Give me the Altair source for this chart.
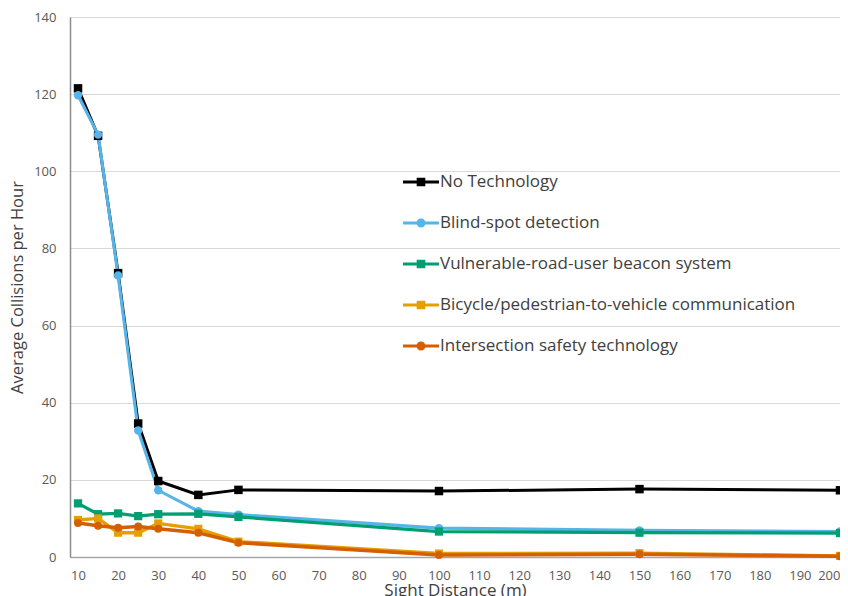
import altair as alt
import pandas as pd

distances = [10, 15, 20, 25, 30, 40, 50, 100, 150, 200]
series_names = [
    "No Technology",
    "Blind-spot detection",
    "Vulnerable-road-user beacon system",
    "Bicycle/pedestrian-to-vehicle communication",
    "Intersection safety technology",
]
no_tech = [121.5, 109.2, 73.6, 34.6, 19.7, 16.1, 17.4, 17.1, 17.6, 17.3]
blind_spot = [119.7, 109.5, 73.0, 32.8, 17.3, 11.9, 11.0, 7.5, 6.9, 6.6]
vru_beacon = [13.9, 11.1, 11.3, 10.6, 11.1, 11.2, 10.4, 6.6, 6.3, 6.2]
bike_ped = [9.6, 10.0, 6.3, 6.3, 8.7, 7.3, 4.0, 0.9, 1.0, 0.3]
intersection = [8.8, 8.1, 7.6, 7.9, 7.3, 6.3, 3.7, 0.5, 0.7, 0.2]

colors = ["#000000", "#56B4E9", "#009E73", "#E69F00", "#D55E00"]
marker_shapes = ["square", "circle", "square", "square", "circle"]
widths = [3, 3.5, 3.5, 3.5, 3.5]

all_values = [no_tech, blind_spot, vru_beacon, bike_ped, intersection]
rows = []
for i, (name, vals) in enumerate(zip(series_names, all_values)):
    for d, v in zip(distances, vals):
        rows.append({"Series": name, "order": i, "Distance": d, "Collisions": v})
df = pd.DataFrame(rows)

sq_line = "M-1,-0.085H1V0.085H-1Z M-0.24,-0.24H0.24V0.24H-0.24Z"
ci_line = "M-1,-0.085H1V0.085H-1Z M0.25,0A0.25,0.25 0 1,1 -0.25,0A0.25,0.25 0 1,1 0.25,0Z"
legend_paths = [sq_line, ci_line, sq_line, sq_line, ci_line]

FONT = "Open Sans"

x_enc = alt.X(
    "Distance:Q",
    scale=alt.Scale(domain=[8, 200], nice=False, zero=False),
    axis=alt.Axis(
        values=list(range(10, 201, 10)),
        title="Sight Distance (m)",
        titleFontSize=17,
        grid=False,
        ticks=False,
        labelPadding=12,
        titlePadding=0,
        domainColor="#a6a6a6",
        domainWidth=1.5,
    ),
)
y_enc = alt.Y(
    "Collisions:Q",
    scale=alt.Scale(domain=[0, 140], nice=False),
    axis=alt.Axis(
        values=list(range(0, 141, 20)),
        title="Average Collisions per Hour",
        titleFontSize=16.5,
        grid=True,
        gridColor="#d9d9d9",
        gridWidth=1.2,
        ticks=False,
        labelPadding=14,
        titlePadding=8,
        domainColor="#8c8c8c",
        domainWidth=1.5,
    ),
)

color_scale = alt.Scale(domain=series_names, range=colors)

lines = alt.Chart(df).mark_line().encode(
    x=x_enc,
    y=y_enc,
    color=alt.Color("Series:N", scale=color_scale, legend=None),
    strokeWidth=alt.StrokeWidth(
        "Series:N", scale=alt.Scale(domain=series_names, range=widths), legend=None
    ),
    detail="Series:N",
)

points = alt.Chart(df).mark_point(filled=True, opacity=1).encode(
    x="Distance:Q",
    y="Collisions:Q",
    color=alt.Color("Series:N", scale=color_scale, legend=None),
    shape=alt.Shape(
        "Series:N", scale=alt.Scale(domain=series_names, range=marker_shapes), legend=None
    ),
    size=alt.Size(
        "Series:N", scale=alt.Scale(domain=series_names, range=[72, 64, 72, 72, 64]), legend=None
    ),
)

legend_layer = (
    alt.Chart(df)
    .transform_filter("false")
    .mark_point(filled=True, opacity=1)
    .encode(
        color=alt.Color(
            "Series:N",
            scale=alt.Scale(domain=series_names, range=colors),
            legend=alt.Legend(title=None),
        ),
        shape=alt.Shape(
            "Series:N",
            scale=alt.Scale(domain=series_names, range=legend_paths),
            legend=alt.Legend(title=None),
        ),
    )
)

chart = (
    alt.layer(lines, points, legend_layer)
    .resolve_scale(color="independent", shape="independent", size="independent", strokeWidth="independent")
    .properties(
        width=770,
        height=540,
        autosize=alt.AutoSizeParams(type="none"),
        padding={"left": 62, "top": 9, "right": 0, "bottom": 48},
    )
    .configure_view(stroke=None)
    .configure_axis(
        labelFont=FONT,
        labelFontSize=13,
        labelColor="#595959",
        titleFont=FONT,
        titleFontWeight="normal",
        titleColor="#404040",
    )
    .configure_legend(
        orient="none",
        legendX=333,
        legendY=147,
        labelFont=FONT,
        labelFontSize=17,
        labelColor="#404040",
        symbolSize=1296,
        symbolStrokeWidth=0,
        rowPadding=15,
        labelOffset=1,
        labelLimit=500,
    )
)

chart.save("out.html", embed_options={"renderer": "svg", "actions": False})
